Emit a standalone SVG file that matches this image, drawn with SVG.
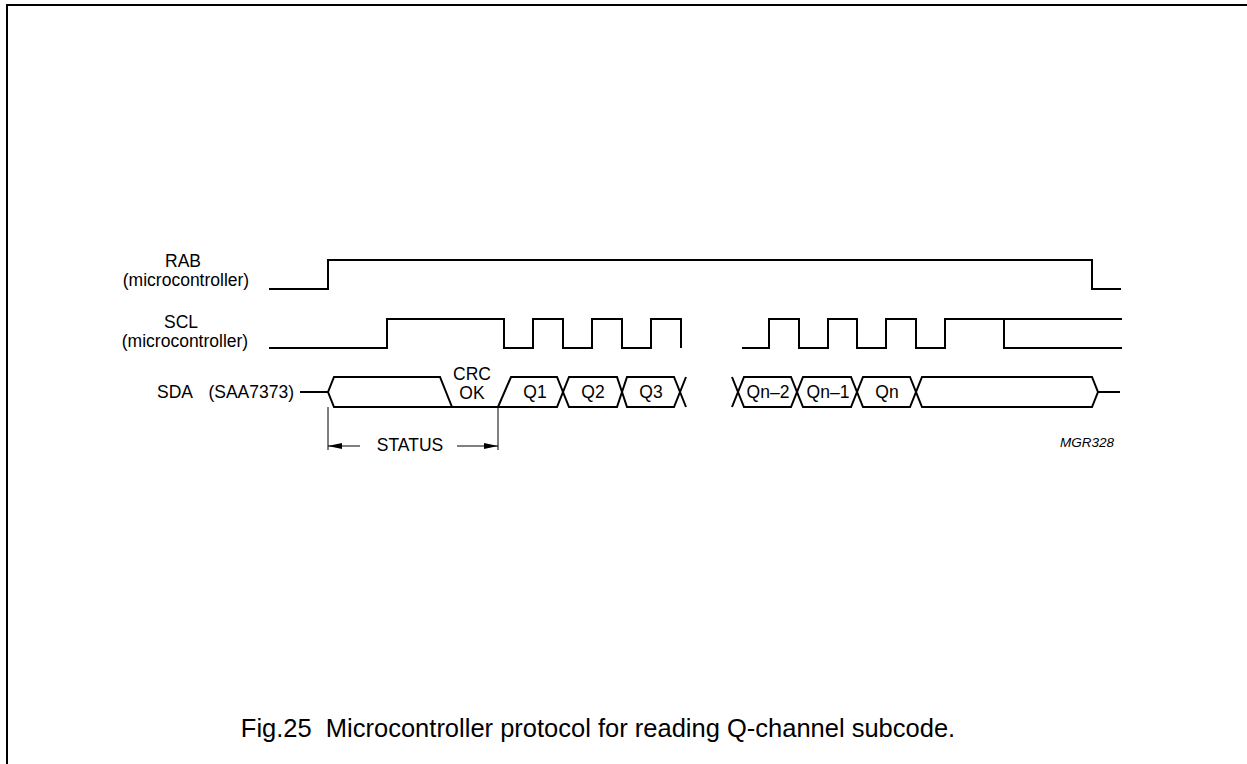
<svg xmlns="http://www.w3.org/2000/svg" width="1247" height="764" viewBox="0 0 1247 764">
<style>
.sig{fill:none;stroke:#000;stroke-width:2;stroke-linejoin:miter}
.thin{fill:none;stroke:#000;stroke-width:1}
.lbl{font-family:"Liberation Sans",Arial,sans-serif;font-size:17.5px;fill:#000}
.mid{text-anchor:middle}
.cap{font-family:"Liberation Sans",Arial,sans-serif;font-size:25.5px;fill:#000;text-anchor:middle;white-space:pre}
.code{font-family:"Liberation Sans",Arial,sans-serif;font-size:13.5px;font-style:italic;fill:#000;text-anchor:middle}
</style>
<defs>
<marker id="arr" viewBox="0 0 14 6" refX="14" refY="3" markerWidth="14" markerHeight="6" markerUnits="userSpaceOnUse" orient="auto">
<path d="M0,0 L14,3 L0,6 z" fill="#000"/>
</marker>
</defs>
<rect width="1247" height="764" fill="#fff"/>
<path d="M7,764 V5 H1247" fill="none" stroke="#000" stroke-width="2"/>
<g id="rab">
<text class="lbl mid" x="183" y="267">RAB</text>
<text class="lbl mid" x="186" y="286">(microcontroller)</text>
</g>
<g id="scl">
<text class="lbl mid" x="181" y="328">SCL</text>
<text class="lbl mid" x="185" y="347">(microcontroller)</text>
</g>
<g id="sda">
<text class="lbl" x="157" y="398">SDA</text>
<text class="lbl" x="294" y="398" text-anchor="end">(SAA7373)</text>
</g>
<g id="connectors">
<path class="sig" d="M269,289 H328 V260 H1092 V289 H1121"/>
<path class="sig" d="M269,348 H387 V319 H504 V348 H533 V319 H563 V348 H592 V319 H622 V348 H651 V319 H681 V348"/>
<path class="sig" d="M742,348 H769 V319 H799 V348 H828 V319 H857 V348 H886 V319 H916 V348 H945 V319 H1122"/>
<path class="sig" d="M1004,319 V348 H1122"/>
<path class="sig" d="M300,392 H328 L334,377 H440 L452,407"/>
<path class="sig" d="M328,392 L334,407 H557 L569,377 H617 L627,407 H674 L686,377"/>
<path class="sig" d="M498,407 L511,377 H557 L569,407 H617 L627,377 H674 L686,407"/>
<path class="sig" d="M732,377 L744,407 H791 L803,377 H851 L863,407 H910 L922,377 H1092 L1098,392 H1120"/>
<path class="sig" d="M732,407 L744,377 H791 L803,407 H851 L863,377 H910 L922,407 H1092 L1098,392"/>
<path class="thin" d="M328,407 V450 M498,407 V450"/>
<path class="thin" d="M360,446 H328" marker-end="url(#arr)"/>
<path class="thin" d="M457,446 H498" marker-end="url(#arr)"/>
</g>
<g id="fields">
<text class="lbl mid" x="472" y="380">CRC</text>
<text class="lbl mid" x="472" y="399">OK</text>
<text class="lbl mid" x="535" y="398">Q1</text>
<text class="lbl mid" x="593" y="398">Q2</text>
<text class="lbl mid" x="651" y="398">Q3</text>
<text class="lbl mid" x="768" y="398">Qn–2</text>
<text class="lbl mid" x="828" y="398">Qn–1</text>
<text class="lbl mid" x="887" y="398">Qn</text>
<text class="lbl mid" x="410" y="451">STATUS</text>
</g>
<text class="code" x="1087" y="447">MGR328</text>
<text class="cap" x="598" y="737" xml:space="preserve">Fig.25  Microcontroller protocol for reading Q-channel subcode.</text>
</svg>
